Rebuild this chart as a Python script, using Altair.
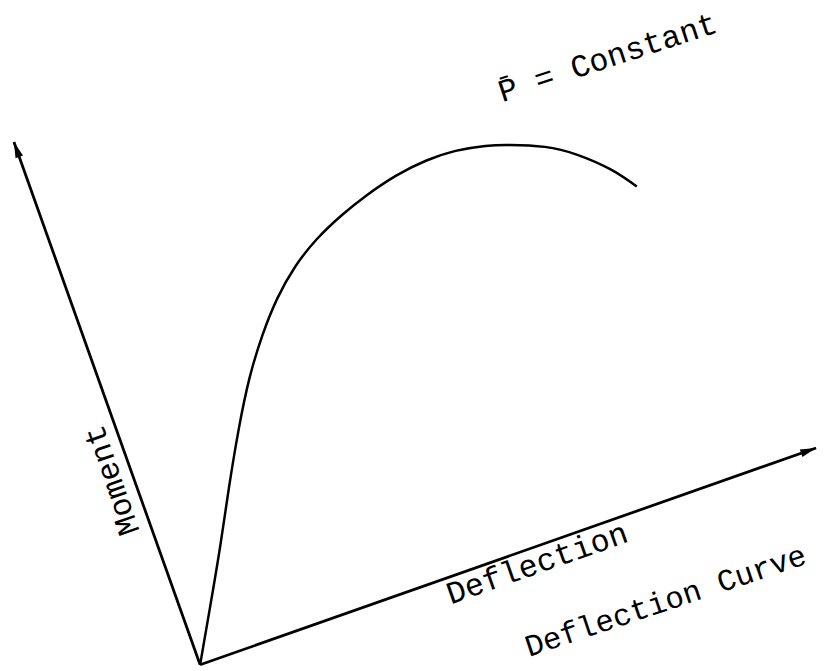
import altair as alt
import pandas as pd

curve_x = [202, 212, 222, 231, 241, 252, 265, 280, 298, 320, 345, 370, 400, 430, 460, 490, 515, 550, 583, 617, 643]
curve_y = [668, 610, 550, 490, 430, 378, 335, 298, 266, 238, 214, 194, 174, 159, 149, 144, 143, 145, 153, 168, 185]

axis_names = ["Moment", "Moment", "Deflection", "Deflection"]
axis_x = [202, 14, 202, 824]
axis_y = [668, 140, 668, 449]

arrow_x = [14, 824]
arrow_y = [140, 449]
arrow_angle = [340.4, 70.6]

label_text = ["P\u0304 = Constant", "Deflection", "Deflection Curve", "Moment"]
label_x = [507, 455, 534, 141]
label_y = [100, 607, 660, 533]
label_angle = [342, 340.6, 341.5, 251]
label_size = [32, 32, 31, 32]

IMG_H = 671

curve_df = pd.DataFrame({"x": curve_x, "y": [IMG_H - v for v in curve_y], "o": list(range(len(curve_x)))})
axis_df = pd.DataFrame({"x": axis_x, "y": [IMG_H - v for v in axis_y], "axis": axis_names, "o": [0, 1, 0, 1]})
arrow_df = pd.DataFrame({"x": arrow_x, "y": [IMG_H - v for v in arrow_y], "a": arrow_angle})
label_df = pd.DataFrame({"x": label_x, "y": [IMG_H - v for v in label_y], "t": label_text,
                         "a": label_angle, "s": label_size})

W, H = 823, 663
xs = alt.Scale(domain=[8, 831], range=[0, W], nice=False, zero=False)
ys = alt.Scale(domain=[0, 663], range=[H, 0], nice=False, zero=False)
X = lambda: alt.X("x:Q", scale=xs, axis=None)
Y = lambda: alt.Y("y:Q", scale=ys, axis=None)

axes = alt.Chart(axis_df).mark_line(color="black", strokeWidth=2.8).encode(
    x=X(), y=Y(), detail="axis:N", order="o:Q"
)

curve = alt.Chart(curve_df).mark_line(color="black", strokeWidth=2.5, interpolate="natural").encode(
    x=X(), y=Y(), order="o:Q"
)

arrows = alt.Chart(arrow_df).mark_point(
    shape="M0,0 L0.5,2 L-0.5,2 Z", filled=True, color="black", size=256, opacity=1
).encode(x=X(), y=Y(), angle=alt.Angle("a:Q", scale=None))

labels = alt.Chart(label_df).mark_text(
    font="Liberation Mono", align="left", baseline="alphabetic", color="black"
).encode(x=X(), y=Y(), text="t:N", angle=alt.Angle("a:Q", scale=None),
         size=alt.Size("s:Q", scale=None))

chart = alt.layer(axes, curve, arrows, labels).properties(
    width=W, height=H, padding=0, autosize=alt.AutoSizeParams(type="none"), background="white"
).configure_view(stroke=None)

chart.save("out.html", embed_options={"renderer": "svg", "actions": False})
